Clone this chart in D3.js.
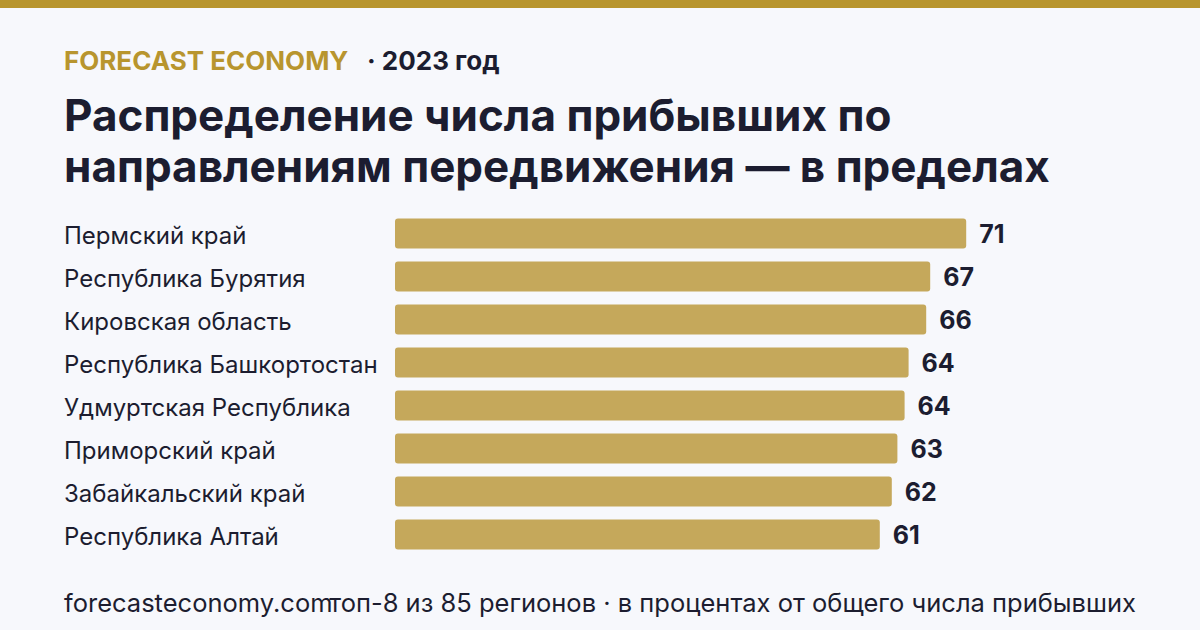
<!DOCTYPE html>
<html><head><meta charset="utf-8">
<script src="https://cdn.jsdelivr.net/npm/d3@7"></script>
<style>html,body{margin:0;padding:0;background:#f7f8fc;}svg{display:block;font-family:Inter,"Noto Sans",sans-serif;}</style>
</head><body>
<script>
const categories = ["Пермский край","Республика Бурятия","Кировская область","Республика Башкортостан","Удмуртская Республика","Приморский край","Забайкальский край","Республика Алтай"];
const values = [71.4, 66.9, 66.4, 64.2, 63.7, 62.8, 62.1, 60.6];
const valueLabels = ["71","67","66","64","64","63","62","61"];
const brand = "FORECAST ECONOMY";
const subtitle = "· 2023 год";
const titleLines = ["Распределение числа прибывших по","направлениям передвижения — в пределах"];
const footerLeft = "forecasteconomy.com";
const footerRight = "топ-8 из 85 регионов · в процентах от общего числа прибывших";

const W = 1200, H = 630;
const gold = "#b8952e", barColor = "#c5a85b", ink = "#1c1d30";
const svg = d3.select("body").append("svg").attr("width", W).attr("height", H);
svg.append("rect").attr("width", W).attr("height", H).attr("fill", "#f7f8fc");
svg.append("rect").attr("width", W).attr("height", 8).attr("fill", gold);

svg.append("text").attr("x", 64).attr("y", 70).attr("fill", gold)
  .attr("font-size", 26).attr("font-weight", 700).text(brand);
svg.append("text").attr("x", 367).attr("y", 70).attr("fill", ink)
  .attr("font-size", 26).attr("font-weight", 700).text(subtitle);

svg.selectAll("text.title").data(titleLines).join("text").attr("class","title")
  .attr("x", 64).attr("y", (d,i) => 131 + i*51).attr("fill", ink)
  .attr("font-size", 44).attr("font-weight", 700).text(d => d);

const x = d3.scaleLinear().domain([0, 75]).range([395, 995]);
const y = d3.scaleBand().domain(categories).range([212, 556]).paddingInner(0.3).paddingOuter(0.15);

const g = svg.append("g");
g.selectAll("rect.bar").data(categories).join("rect").attr("class","bar")
  .attr("x", x(0)).attr("y", d => y(d))
  .attr("width", (d,i) => x(values[i]) - x(0)).attr("height", y.bandwidth())
  .attr("rx", 3).attr("fill", barColor);

g.selectAll("text.cat").data(categories).join("text").attr("class","cat")
  .attr("x", 64).attr("y", d => y(d) + y.bandwidth()/2).attr("dy", "0.42em")
  .attr("fill", ink).attr("font-size", 24).text(d => d);

g.selectAll("text.val").data(categories).join("text").attr("class","val")
  .attr("x", (d,i) => x(values[i]) + 13).attr("y", d => y(d) + y.bandwidth()/2).attr("dy", "0.38em")
  .attr("fill", ink).attr("font-size", 25).attr("font-weight", 700).text((d,i) => valueLabels[i]);

svg.append("text").attr("x", 64).attr("y", 612).attr("fill", ink).attr("font-size", 25.5).text(footerLeft);
svg.append("text").attr("x", 1136).attr("y", 612).attr("text-anchor","end").attr("fill", ink).attr("font-size", 25.5).text(footerRight);
</script>
</body></html>
